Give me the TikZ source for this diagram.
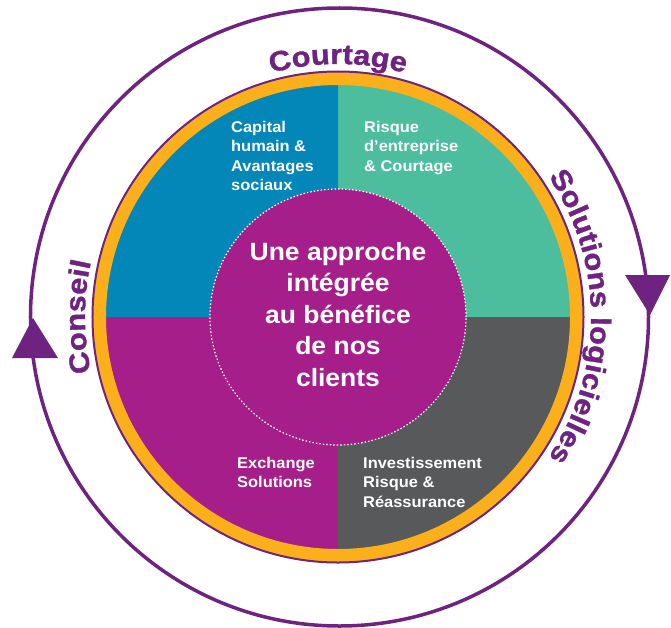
\documentclass[tikz,border=0pt]{standalone}
\usepackage{fontspec}
\newfontfamily\hvb[FakeStretch=1.06]{Liberation Sans}
\newfontfamily\hvarc[FakeStretch=1.1,FakeBold=1.2]{Liberation Sans}
\usetikzlibrary{decorations.text}
\definecolor{purp}{HTML}{6F2380}
\definecolor{orng}{HTML}{FBB01B}
\definecolor{qblue}{HTML}{0386B8}
\definecolor{qteal}{HTML}{4CBE9E}
\definecolor{qgrey}{HTML}{58595B}
\definecolor{qmag}{HTML}{A51E8A}
\tikzset{
  qlabel/.style={text=white, align=left, anchor=north west, inner sep=0pt,
    font=\hvb\bfseries\fontsize{15.5}{19.3}\selectfont},
  arclabel/.style={decorate, decoration={text along path, text align=center,
    text color=purp, text={|\hvarc\bfseries\fontsize{28}{30}\selectfont|#1}}},
}
\begin{document}
\begin{tikzpicture}[x=1pt,y=1pt]
\useasboundingbox (-338,-310) rectangle (333,317);
\fill[white] (-338,-310) rectangle (333,317);
\coordinate (c) at (0,0);
% outer cycle
\draw[purp, line width=3.5] (1.5,0) circle[radius=309];
\fill[purp] (-305,-1) -- (-326,-41) -- (-280,-41) -- cycle;
\fill[purp] (312,2) -- (287,42) -- (332,42) -- cycle;
% quadrants
\fill[qteal] (c) -- (0:232.5) arc[start angle=0, end angle=90, radius=232.5] -- cycle;
\fill[qblue] (c) -- (90:232.5) arc[start angle=90, end angle=180, radius=232.5] -- cycle;
\fill[qmag] (c) -- (180:232.5) arc[start angle=180, end angle=270, radius=232.5] -- cycle;
\fill[qgrey] (c) -- (270:232.5) arc[start angle=270, end angle=360, radius=232.5] -- cycle;
% rings
\draw[orng, line width=13] (c) circle[radius=238.5];
\draw[purp, line width=2] (c) circle[radius=245.5];
% centre
\node[circle, minimum size=256pt, inner sep=0pt, fill=qmag, draw=white,
  line width=1.2pt, dash pattern=on 1.5pt off 2pt] (centre) at (c) {};
\node[text=white, align=center, anchor=north, inner sep=0pt,
  font=\hvb\bfseries\fontsize{25}{31.5}\selectfont] (ctext) at (0,75)
  {Une approche\\intégrée\\au bénéfice\\de nos\\clients};
% quadrant labels
\node[qlabel] (capital) at (-107,196) {Capital\\humain \&\\Avantages\\sociaux};
\node[qlabel] (risque) at (26,196) {Risque\\d’entreprise\\\& Courtage};
\node[qlabel] (exchange) at (-101,-140) {Exchange\\Solutions};
\node[qlabel] (invest) at (25,-140) {Investissement\\Risque \&\\Réassurance};
% arc labels
\path[arclabel=Courtage] (150:253) arc[start angle=150, end angle=30, radius=253];
\path[arclabel=Conseil] (240:253) arc[start angle=240, end angle=120, radius=253];
\path[arclabel=Solutions logicielles] (60:253) arc[start angle=60, end angle=-60, radius=253];
\end{tikzpicture}
\end{document}
